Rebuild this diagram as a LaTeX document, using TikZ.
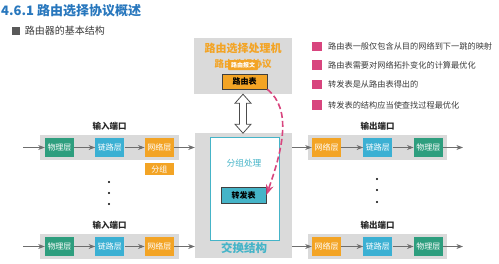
\documentclass[tikz,border=0pt]{standalone}
\usepackage{fontspec}
\setmainfont{Noto Sans CJK SC}
\usetikzlibrary{arrows.meta,positioning,calc}

\definecolor{titleblue}{HTML}{2877BD}
\definecolor{phygreen}{HTML}{2E9E7E}
\definecolor{linkblue}{HTML}{3BB0D3}
\definecolor{netorange}{HTML}{F3A425}
\definecolor{bandgray}{HTML}{DADADA}
\definecolor{arrowgray}{HTML}{6E6E6E}
\definecolor{swteal}{HTML}{45B4C8}
\definecolor{routepink}{HTML}{D8457E}
\definecolor{textgray}{HTML}{3A3A3A}

\begin{document}
\begin{tikzpicture}[
  x=1pt, y=-1pt,
  >=Stealth,
  layer/.style={minimum width=29pt, minimum height=19pt, inner sep=0pt, text=white, font=\fontsize{8pt}{9pt}\selectfont},
  phy/.style={layer, fill=phygreen},
  link/.style={layer, fill=linkblue},
  net/.style={layer, fill=netorange},
  band/.style={fill=bandgray, minimum width=139pt, minimum height=25pt, inner sep=0pt},
  portlabel/.style={font=\bfseries\fontsize{8.5pt}{9pt}\selectfont, text=black!85},
  flow/.style={->, draw=arrowgray, line width=0.8pt},
  table/.style={draw=black!75, line width=0.8pt, minimum width=45pt, inner sep=0pt, font=\bfseries\fontsize{8pt}{9pt}\selectfont},
  bullet/.style={fill=routepink, minimum size=9.5pt, inner sep=0pt},
  item/.style={anchor=west, inner sep=0pt, text=textgray, font=\fontsize{8.2pt}{9pt}\selectfont},
  dot/.style={circle, fill=black, inner sep=0pt, minimum size=2.4pt},
]
\useasboundingbox (0,0) rectangle (499,263);

% Heading
\node[anchor=west, inner sep=0pt, text=titleblue, font=\bfseries\fontsize{13pt}{14pt}\selectfont] (title) at (1,11) {4.6.1 路由选择协议概述};
\node[fill=black!65, minimum size=8pt, inner sep=0pt] (subbox) at (15.5,31) {};
\node[item, right=5pt of subbox, font=\fontsize{10pt}{11pt}\selectfont] (subtitle) {路由器的基本结构};

% Routing processor
\node[fill=bandgray, minimum width=98pt, minimum height=56pt, inner sep=0pt] (rp) at (243,66) {};
\node[text=netorange, font=\bfseries\fontsize{11pt}{12pt}\selectfont] (rptitle) at (243,48) {路由选择处理机};
\node[text=netorange, font=\bfseries\fontsize{9.5pt}{10pt}\selectfont] (rpproto) at (243,64) {路由选择协议};
\node[fill=netorange, text=white, rounded corners=1pt, minimum width=30pt, minimum height=10pt, inner sep=0pt, font=\bfseries\fontsize{6pt}{6pt}\selectfont] (rmsg) at (243,65) {路由报文};
\node[table, fill=netorange, minimum height=15pt] (rtab) at (244.5,81.5) {路由表};

% Switch fabric
\node[fill=bandgray, minimum width=97pt, minimum height=125pt, inner sep=0pt] (sw) at (243.5,195.5) {};
\node[draw=swteal, fill=white, line width=1pt, minimum width=69pt, minimum height=103pt, inner sep=0pt] (swin) at (244.5,188.5) {};
\node[text=swteal, font=\fontsize{8.7pt}{9pt}\selectfont] (proc) at (244,163) {分组处理};
\node[table, fill=swteal, minimum height=16pt] (ftab) at (243.5,195) {转发表};
\node[text=swteal, font=\bfseries\fontsize{11.5pt}{12pt}\selectfont] (swname) at (244,248) {交换结构};

% Hollow double arrow between processor and fabric
\draw[draw=black!70, fill=white, line width=0.8pt] (rp.south) -- ++(8,9) -- ++(-4.5,0) -- ++(0,21) -- ++(4.5,0) -- ++(-8,9)
  -- ++(-8,-9) -- ++(4.5,0) -- ++(0,-21) -- ++(-4.5,0) -- cycle;

% Routing table feeds forwarding table
\draw[->, routepink, line width=1.6pt, dash pattern=on 6pt off 3pt] (rtab.south east) .. controls +(25,20) and +(16,-45) .. (ftab.east);

% Input ports
\foreach \n/\y in {1/147.5, 2/246.5} {
  \node[band] (inband\n) at (109.5,\y) {};
  \node[portlabel, above=1pt of inband\n] {输入端口};
  \node[phy] (phy\n) at (59.5,\y) {物理层};
  \node[link, right=21pt of phy\n] (link\n) {链路层};
  \node[net, right=20pt of link\n] (net\n) {网络层};
  \coordinate (in\n) at (23,\y);
  \draw[flow] (in\n) -- (phy\n);
  \draw[flow] (phy\n) -- (link\n);
  \draw[flow] (link\n) -- (net\n);
  \draw[flow] (net\n) -- (net\n -| sw.west);
}
\node[net, below=6pt of net1, minimum height=12pt] (grp) {分组};

% Output ports
\foreach \n/\y in {1/147.5, 2/246.5} {
  \node[band] (outband\n) at (377.5,\y) {};
  \node[portlabel, above=1pt of outband\n] {输出端口};
  \node[net] (onet\n) at (326.5,\y) {网络层};
  \node[link, right=22pt of onet\n] (olink\n) {链路层};
  \node[phy, right=21pt of olink\n] (ophy\n) {物理层};
  \coordinate (out\n) at (463,\y);
  \draw[flow] (onet\n -| sw.east) -- (onet\n);
  \draw[flow] (onet\n) -- (olink\n);
  \draw[flow] (olink\n) -- (ophy\n);
  \draw[flow] (ophy\n) -- (out\n);
}

% Ellipsis dots
\foreach \y in {182,193,204} \node[dot] at (109,\y) {};
\foreach \y in {179,190,202} \node[dot] at (377,\y) {};

% Notes
\node[bullet] (b1) at (317,46.5) {};
\node[bullet] (b2) at (317,65) {};
\node[bullet] (b3) at (317,84.5) {};
\node[bullet] (b4) at (317,105) {};
\node[item, right=6pt of b1] (t1) {路由表一般仅包含从目的网络到下一跳的映射};
\node[item, right=6pt of b2] (t2) {路由表需要对网络拓扑变化的计算最优化};
\node[item, right=6pt of b3] (t3) {转发表是从路由表得出的};
\node[item, right=6pt of b4] (t4) {转发表的结构应当使查找过程最优化};

\end{tikzpicture}
\end{document}
